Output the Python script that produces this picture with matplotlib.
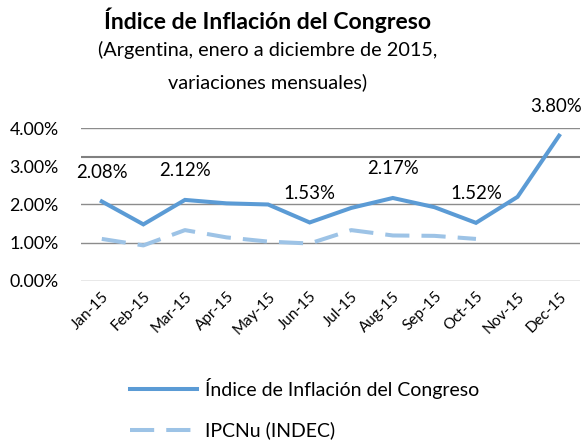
"""Índice de Inflación del Congreso vs IPCNu, 2015 monthly variations."""

import matplotlib
matplotlib.use("Agg")
import matplotlib.pyplot as plt

months = ["Jan-15", "Feb-15", "Mar-15", "Apr-15", "May-15", "Jun-15",
          "Jul-15", "Aug-15", "Sep-15", "Oct-15", "Nov-15", "Dec-15"]
congreso = [2.08, 1.48, 2.12, 2.03, 2.00, 1.53, 1.91, 2.17, 1.93, 1.52, 2.20, 3.80]
ipcnu = [1.10, 0.93, 1.33, 1.14, 1.03, 0.98, 1.33, 1.19, 1.18, 1.10]
labelled = [0, 2, 5, 7, 9, 11]
y_ticks = [0, 1, 2, 3, 4]
grid_levels = [0, 1, 2, 4]

BLUE = "#5B9BD5"
LIGHT = "#9DC3E6"
GRID = "#8C8C8C"

plt.rcParams["font.family"] = ["Lato", "DejaVu Sans"]

fig = plt.figure(figsize=(5.84, 4.42), dpi=100)
ax = fig.add_axes([0.1387, 0.3643, 0.9930 - 0.1387, 0.7104 - 0.3643])

x = list(range(len(months)))
for level in grid_levels:
    ax.axhline(level, color=GRID, linewidth=1, zorder=1)
ax.axhline(3.25, color="#808080", linewidth=1.5, zorder=1)

ax.plot(x, congreso, color=BLUE, linewidth=2.9, solid_joinstyle="miter",
        label="Índice de Inflación del Congreso", zorder=3)
ax.plot(x[:len(ipcnu)], ipcnu, color=LIGHT, linewidth=2.9, dashes=(6, 3),
        dash_capstyle="butt", label="IPCNu (INDEC)", zorder=2)

for i in labelled:
    # keep the last label inside the figure edge
    dx = -3 if i == len(months) - 1 else 0
    ax.annotate(f"{congreso[i]:.2f}%", (x[i], congreso[i]), xytext=(dx, 29),
                textcoords="offset pixels", ha="center", va="center",
                fontsize=13.4, color="#000000", annotation_clip=False)

ax.set_xlim(-0.5, len(months) - 0.5)
ax.set_ylim(0, 4)
ax.set_yticks(y_ticks)
ax.set_yticklabels([f"{v:.2f}%" for v in y_ticks], fontsize=12.8)
ax.set_xticks(x)
ax.set_xticklabels(months, fontsize=11, rotation=45, ha="right",
                   va="top", rotation_mode="anchor")
ax.tick_params(length=0, pad=6)
ax.tick_params(axis="y", pad=16)
for spine in ax.spines.values():
    spine.set_visible(False)

fig.text(0.459, 0.955, "Índice de Inflación del Congreso", ha="center",
         va="center", fontsize=16.6, fontweight="bold")
fig.text(0.459, 0.887, "(Argentina, enero a diciembre de 2015,", ha="center",
         va="center", fontsize=14.3)
fig.text(0.459, 0.814, "variaciones mensuales)", ha="center",
         va="center", fontsize=14.3)

fig.legend(loc="upper left", bbox_to_anchor=(0.222, 0.145), frameon=False,
           fontsize=14, handlelength=3.45, labelspacing=1.16, handletextpad=0.41,
           borderaxespad=0, borderpad=0)

fig.savefig("out.png", dpi=100)
